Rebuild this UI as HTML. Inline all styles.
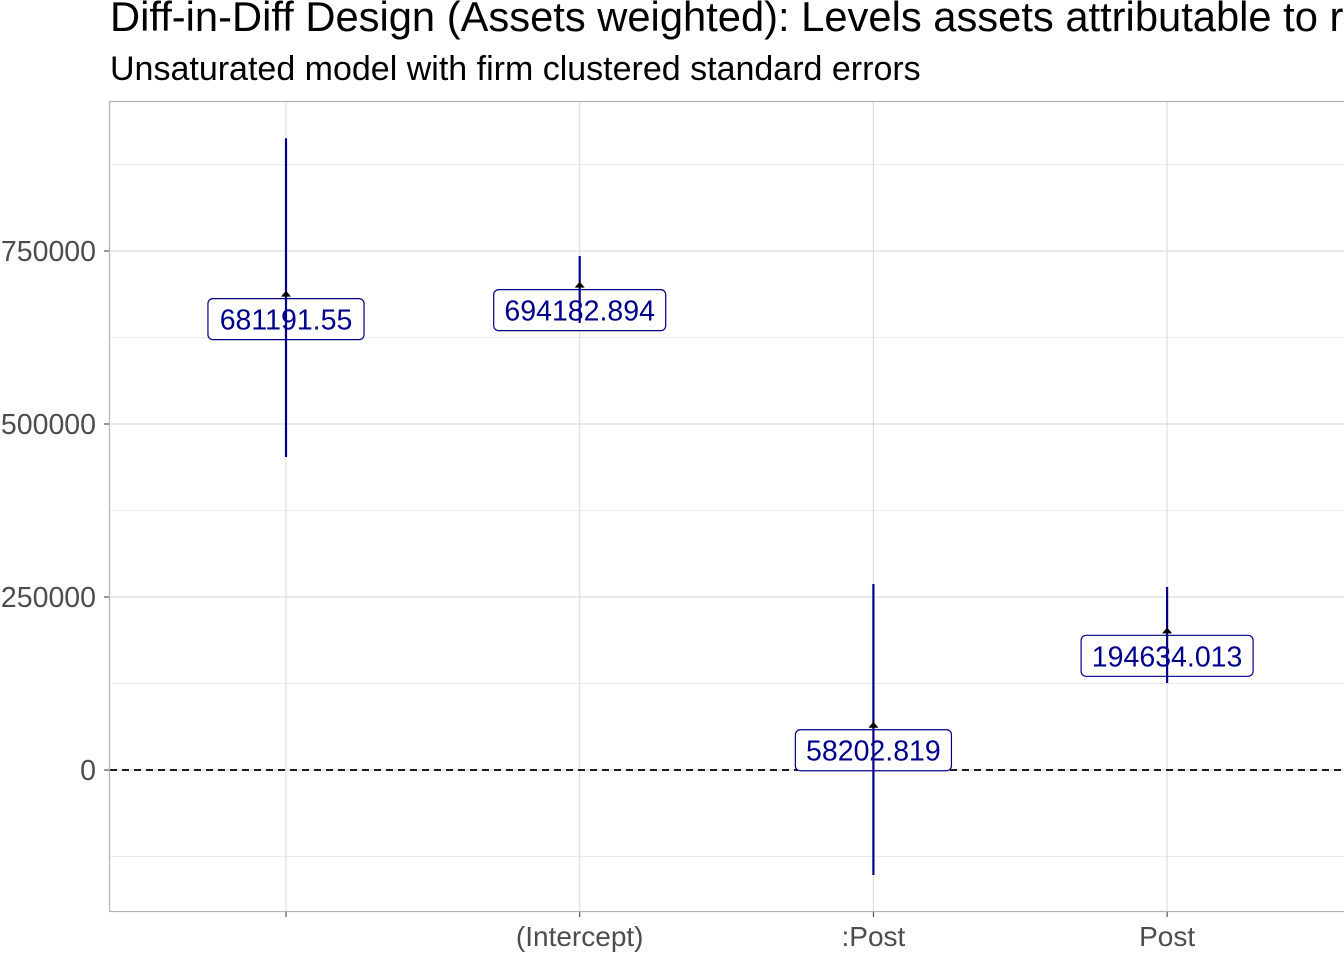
<!DOCTYPE html>
<html><head><meta charset="utf-8"><style>
body{margin:0;background:#fff;width:1344px;height:960px;overflow:hidden;font-family:"Liberation Sans",sans-serif}
</style></head><body>
<svg width="1344" height="960" font-family="Liberation Sans, sans-serif">
<text x="110" y="31" font-size="41.7" fill="#000">Diff-in-Diff Design (Assets weighted): Levels assets attributable to r</text>
<text x="110" y="80" font-size="34" fill="#000">Unsaturated model with firm clustered standard errors</text>
<g id="grid"></g>
<g id="marks"></g>
<rect x="109.5" y="101.5" width="1240" height="810" fill="none" stroke="#b3b3b3" stroke-width="1.2"/>
</svg>
<script>
const categories = ["", "(Intercept)", ":Post", "Post"];
const estimates = [681191.55, 694182.894, 58202.819, 194634.013];
const labels = ["681191.55", "694182.894", "58202.819", "194634.013"];
const upper = [913000, 742800, 268800, 264500];
const lower = [452300, 646000, -151700, 125700];
const yTicks = [0, 250000, 500000, 750000];
const yTickLabels = ["0", "250000", "500000", "750000"];

const NS = "http://www.w3.org/2000/svg";
const y = v => 770 - v / 250000 * 173;
const x = i => 286 + i * 293.7;
function mk(tag, attrs, parent){const e=document.createElementNS(NS,tag);for(const k in attrs)e.setAttribute(k,attrs[k]);parent.appendChild(e);return e;}
const grid=document.getElementById('grid'), marks=document.getElementById('marks');
for(let t=-125000;t<=875000;t+=250000){
  const l=mk('line',{x1:110,x2:1344,y1:y(t),y2:y(t),stroke:'#ebebeb','stroke-width':1},grid);
  
  
}
yTicks.forEach((t,i)=>{
  const l=mk('line',{x1:110,x2:1344,y1:y(t),y2:y(t),stroke:'#dedede','stroke-width':1.2},grid);
  
  
  const tk=mk('line',{x1:104,x2:109,y1:y(t),y2:y(t),stroke:'#333','stroke-width':1},grid);
  
  
  const tx=mk('text',{x:96,y:y(t)+10,'text-anchor':'end','font-size':28.5,fill:'#4d4d4d'},grid);
  tx.textContent=yTickLabels[i];
  
  
});
categories.forEach((c,i)=>{
  const l=mk('line',{x1:x(i),x2:x(i),y1:102,y2:911,stroke:'#dedede','stroke-width':1.2},grid);
  
  
  const tk=mk('line',{x1:x(i),x2:x(i),y1:912,y2:917,stroke:'#333','stroke-width':1},grid);
  
  
  const tx=mk('text',{x:x(i),y:946,'text-anchor':'middle','font-size':28,fill:'#4d4d4d'},grid);
  tx.textContent=c;
  
  
});
const z=mk('line',{x1:110,x2:1344,y1:y(0),y2:y(0),stroke:'#000','stroke-width':1.8,'stroke-dasharray':'7,5'},marks);


categories.forEach((c,i)=>{
  const px=x(i), py=y(estimates[i]);
  const w=labels[i].length*15.9+13;
  const r=mk('rect',{x:px-w/2,y:py,width:w,height:41,rx:5,fill:'#fff',stroke:'#00008b','stroke-width':1.2},marks);
  
  
  const t=mk('text',{x:px,y:py+31,'text-anchor':'middle','font-size':28.5,fill:'#00008b'},marks);
  t.textContent=labels[i];
  
  
  const e=mk('line',{x1:px,x2:px,y1:y(upper[i]),y2:y(lower[i]),stroke:'#00008b','stroke-width':2.2},marks);
  
  
  const p=mk('path',{d:`M${px} ${py-8}L${px+5} ${py-2}L${px-5} ${py-2}Z`,fill:'#000'},marks);
  
  
});
</script>
</body></html>
